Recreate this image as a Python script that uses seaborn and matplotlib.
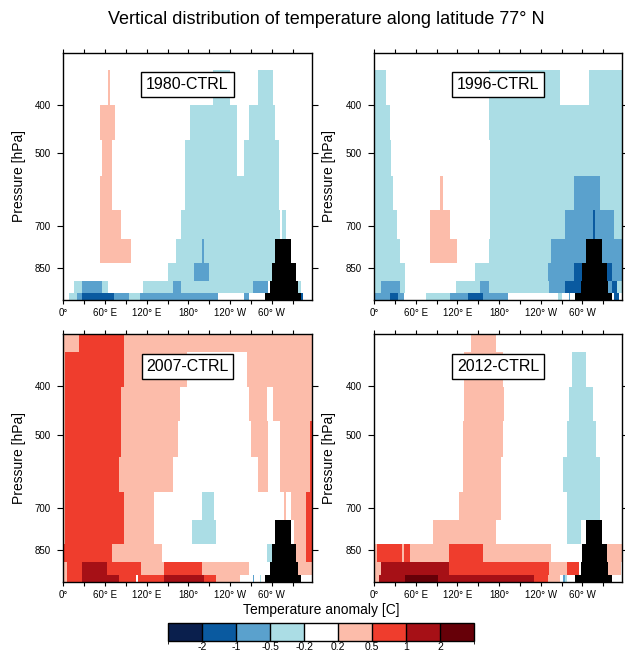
import numpy as np
import matplotlib
matplotlib.use('Agg')
import matplotlib.pyplot as plt
from matplotlib.colors import ListedColormap, BoundaryNorm
from matplotlib.cm import ScalarMappable
import seaborn as sns

sns.set_style('ticks', {'axes.edgecolor': 'black', 'xtick.color': 'black', 'ytick.color': 'black',
                        'text.color': 'black', 'axes.labelcolor': 'black'})
plt.rcParams['font.family'] = ['Liberation Sans', 'DejaVu Sans']
plt.rcParams['axes.unicode_minus'] = False

# grid: 2.5 deg longitude cells, pressure layer edges [hPa] (top -> surface)
lon_edges = np.arange(0, 362.5, 2.5)
p_edges = [315, 342, 401, 470, 555, 651, 742, 828, 900, 954, 984]

# anomaly classes -4..4 (0 = |dT| < 0.2), bounded by these levels [C]
levels = [-2, -1, -0.5, -0.2, 0.2, 0.5, 1, 2]
colors = ['#0a1f4d', '#0a5aa0', '#5aa1cd', '#abdde5', '#ffffff',
          '#fcbcaa', '#ef3d2d', '#a61016', '#660008']

# one list per pressure layer (top first): (lon_from, lon_to, class)
anom_1980 = [
    [],
    [(65, 67.5, 1), (215, 240, -1), (280, 302.5, -1)],
    [(52.5, 75, 1), (182.5, 250, -1), (267.5, 305, -1)],
    [(55, 70, 1), (175, 250, -1), (260, 310, -1)],
    [(52.5, 70, 1), (175, 310, -1)],
    [(52.5, 82.5, 1), (170, 312.5, -1), (315, 320, -1)],
    [(52.5, 97.5, 1), (162.5, 305, -1), (200, 202.5, -2)],
    [(150, 300, -1), (187.5, 210, -2)],
    [(15, 27.5, -1), (27.5, 55, -2), (55, 65, -1), (115, 157.5, -1), (157.5, 170, -2),
     (170, 272.5, -1), (272.5, 295, -2), (337.5, 342.5, -1)],
    [(7.5, 20, -1), (20, 27.5, -2), (27.5, 72.5, -3), (72.5, 95, -2), (95, 110, -1),
     (110, 222.5, -2), (260, 267.5, -2), (342.5, 345, -3)],
]

anom_1996 = [
    [],
    [(0, 17.5, -1), (165, 267.5, -1), (310, 360, -1)],
    [(0, 22.5, -1), (165, 360, -1)],
    [(0, 25, -1), (167.5, 360, -1)],
    [(0, 27.5, -1), (95, 100, 1), (167.5, 360, -1), (287.5, 325, -2)],
    [(0, 32.5, -1), (80, 110, 1), (167.5, 360, -1), (275, 345, -2), (315, 317.5, -3)],
    [(0, 37.5, -1), (80, 120, 1), (165, 255, -1), (255, 357.5, -2), (357.5, 360, -1)],
    [(0, 45, -1), (145, 250, -1), (250, 287.5, -2), (287.5, 300, -3), (335, 342.5, -3),
     (342.5, 357.5, -2), (357.5, 360, -1)],
    [(0, 10, -1), (10, 37.5, -2), (37.5, 45, -1), (117.5, 152.5, -1), (152.5, 165, -2),
     (165, 252.5, -1), (252.5, 275, -2), (275, 297.5, -3), (337.5, 342.5, -2),
     (342.5, 350, -3), (350, 360, -1)],
    [(0, 22.5, -2), (22.5, 35, -3), (35, 42.5, -2), (75, 110, -1), (110, 135, -2),
     (135, 157.5, -3), (157.5, 192.5, -2), (265, 270, -1), (280, 282.5, -2), (345, 352.5, -3)],
]

anom_2007 = [
    [(0, 22.5, 1), (22.5, 87.5, 2), (87.5, 360, 1)],
    [(0, 2.5, 1), (2.5, 87.5, 2), (87.5, 177.5, 1), (265, 360, 1)],
    [(0, 2.5, 1), (2.5, 82.5, 2), (82.5, 167.5, 1), (267.5, 292.5, 1), (302.5, 360, 1)],
    [(0, 2.5, 1), (2.5, 82.5, 2), (82.5, 165, 1), (270, 295, 1), (312.5, 355, 1), (355, 360, 2)],
    [(0, 2.5, 1), (2.5, 80, 2), (80, 157.5, 1), (280, 295, 1), (312.5, 355, 1), (355, 360, 2)],
    [(0, 2.5, 1), (2.5, 87.5, 2), (87.5, 130, 1), (200, 217.5, -1), (317.5, 320, 1),
     (327.5, 350, 1), (350, 360, 2)],
    [(0, 2.5, 1), (2.5, 87.5, 2), (87.5, 130, 1), (185, 220, -1), (332.5, 350, 1), (350, 360, 2)],
    [(0, 70, 2), (70, 142.5, 1), (292.5, 300, -1), (335, 350, 1), (350, 360, 2)],
    [(0, 5, 1), (5, 27.5, 2), (27.5, 62.5, 3), (62.5, 112.5, 2), (112.5, 145, 1),
     (145, 200, 2), (200, 267.5, 1), (337.5, 360, 1)],
    [(0, 5, 1), (5, 27.5, 2), (27.5, 80, 3), (80, 105, 2), (107.5, 145, 2), (145, 202.5, 3),
     (202.5, 220, 2), (220, 255, 1), (272.5, 275, -2), (282.5, 285, -1)],
]

anom_2012 = [
    [(140, 175, 1)],
    [(130, 185, 1), (285, 305, -1)],
    [(130, 187.5, 1), (280, 315, -1)],
    [(127.5, 185, 1), (277.5, 320, -1)],
    [(127.5, 182.5, 1), (272.5, 325, -1)],
    [(122.5, 182.5, 1), (277.5, 325, -1)],
    [(85, 175, 1), (277.5, 297.5, -1)],
    [(0, 5, 1), (5, 40, 2), (40, 42.5, 1), (42.5, 52.5, 2), (52.5, 107.5, 1),
     (107.5, 157.5, 2), (157.5, 255, 1), (335, 360, 1)],
    [(0, 10, 1), (10, 107.5, 3), (107.5, 252.5, 2), (252.5, 277.5, 1), (277.5, 295, 2),
     (337.5, 355, 1)],
    [(0, 7.5, 1), (7.5, 45, 3), (45, 92.5, 4), (92.5, 230, 3), (230, 250, 2), (250, 267.5, 1),
     (272.5, 275, -2), (275, 277.5, -1)],
]

# Greenland topography (black), per lowest layers
terrain_rows = [6, 7, 8, 9]
terrain_west = [305, 300, 297.5, 290]
terrain_east = [327.5, 335, 337.5, 342.5]

panels = ['1980-CTRL', '1996-CTRL', '2007-CTRL', '2012-CTRL']
panel_data = [anom_1980, anom_1996, anom_2007, anom_2012]

xticks = [0, 60, 120, 180, 240, 300]
xticklabels = ['0°', '60° E', '120° E', '180°', '120° W', '60° W']
yticks = [400, 500, 700, 850]

lon_c = (lon_edges[:-1] + lon_edges[1:]) / 2


def build_grid(rows):
    grid = np.zeros((len(p_edges) - 1, len(lon_c)))
    for i, segs in enumerate(rows):
        for lo, hi, cls in segs:
            grid[i, (lon_c > lo) & (lon_c < hi)] = cls
    return grid


land = np.zeros((len(p_edges) - 1, len(lon_c)), dtype=bool)
for r, w, e in zip(terrain_rows, terrain_west, terrain_east):
    land[r, (lon_c > w) & (lon_c < e)] = True

cmap = ListedColormap(sns.color_palette(colors))
norm = BoundaryNorm(np.arange(-4.5, 5.0, 1.0), cmap.N)
black = ListedColormap(['black'])

fig = plt.figure(figsize=(6.25, 6.57), dpi=100)
positions = [[0.1013, 0.5434, 0.3974, 0.3765],
             [0.5984, 0.5434, 0.3974, 0.3765],
             [0.1013, 0.1146, 0.3974, 0.3765],
             [0.5984, 0.1146, 0.3974, 0.3765]]

for pos, name, rows in zip(positions, panels, panel_data):
    ax = fig.add_axes(pos)
    ax.pcolormesh(lon_edges, p_edges, build_grid(rows), cmap=cmap, norm=norm,
                  shading='flat', antialiased=False, linewidth=0)
    ax.pcolormesh(lon_edges, p_edges, np.ma.masked_where(~land, land.astype(float)),
                  cmap=black, shading='flat', antialiased=False, linewidth=0)
    ax.set_yscale('log')
    ax.set_ylim(984, 315)
    ax.set_xlim(0, 357.5)
    ax.set_yticks(yticks)
    ax.set_yticks([], minor=True)
    ax.set_yticklabels([str(t) for t in yticks])
    ax.set_xticks(xticks)
    ax.set_xticks(np.arange(30, 360, 60), minor=True)
    ax.set_xticklabels(xticklabels)
    ax.tick_params(axis='both', which='both', direction='out', top=True, right=True,
                   labelsize=7, width=0.8)
    ax.tick_params(axis='x', which='both', length=3, pad=3)
    ax.tick_params(axis='y', which='major', length=4, pad=5)
    for sp in ax.spines.values():
        sp.set_linewidth(1)
    ax.set_ylabel('Pressure [hPa]', fontsize=10)
    ax.yaxis.set_label_coords(-0.152, 0.5)
    ax.text(0.5, 0.87, name, transform=ax.transAxes, ha='center', va='center', fontsize=11.5,
            bbox=dict(boxstyle='square,pad=0.3', fc='white', ec='black', lw=1))

fig.text(0.522, 1 - 20 / 657, 'Vertical distribution of temperature along latitude 77° N',
         ha='center', va='center', fontsize=13)
fig.text(0.514, 1 - 610 / 657, 'Temperature anomaly [C]', ha='center', va='center', fontsize=10)

cax = fig.add_axes([0.2693, 0.0245, 0.4891, 0.0269])
cb = fig.colorbar(ScalarMappable(norm=norm, cmap=cmap), cax=cax, orientation='horizontal',
                  ticks=np.arange(-3.5, 4.0, 1.0), drawedges=True)
cb.ax.set_xticklabels([str(v) for v in levels])
cb.ax.tick_params(length=0, labelsize=7.5, pad=1)
cb.outline.set_linewidth(1)
cb.dividers.set_color('black')
cb.dividers.set_linewidth(1)

fig.savefig('out.png', dpi=100)
